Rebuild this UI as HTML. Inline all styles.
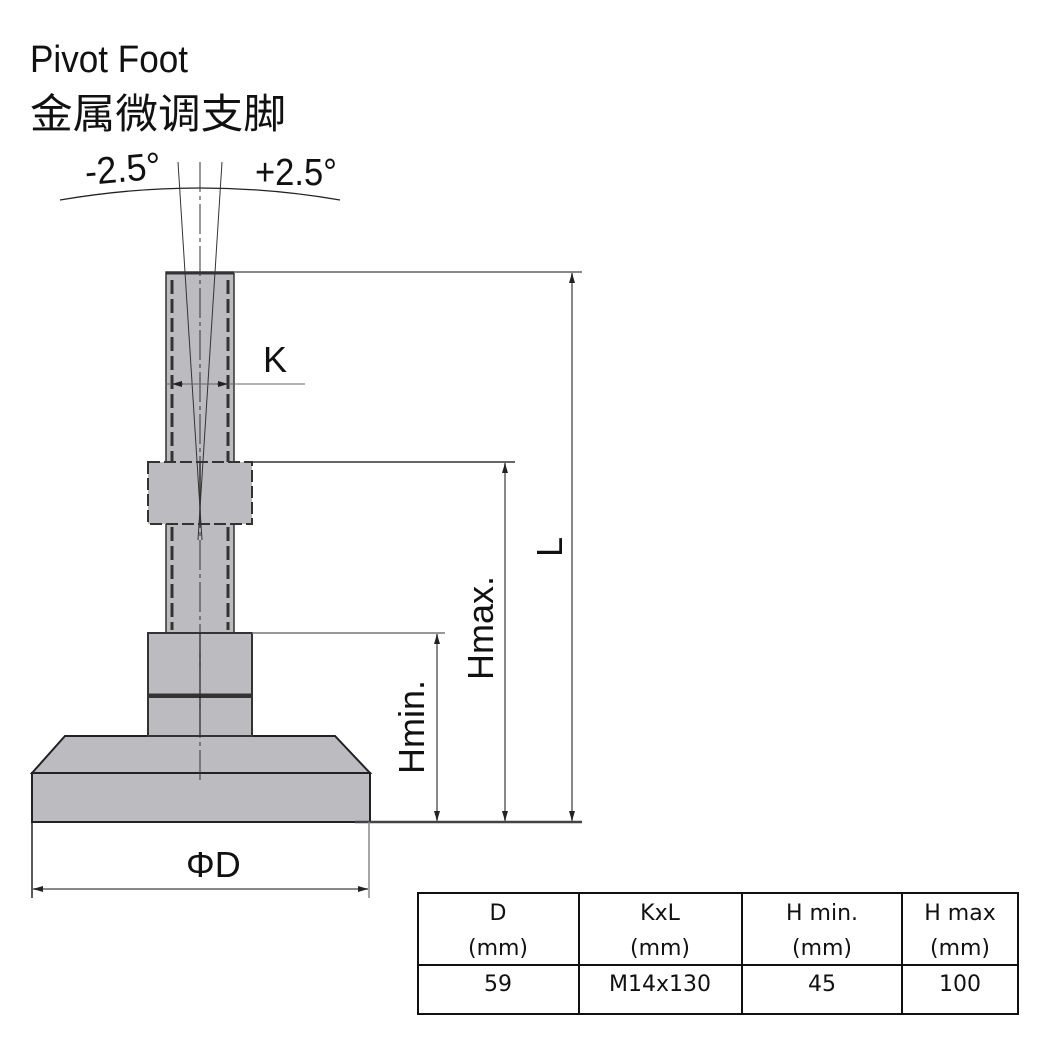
<!DOCTYPE html>
<html><head><meta charset="utf-8"><style>html,body{margin:0;padding:0;background:#fff}svg{display:block}</style></head>
<body>
<svg width="1042" height="1042" viewBox="0 0 1042 1042" xmlns="http://www.w3.org/2000/svg" font-family="Liberation Sans, sans-serif">
<defs>
<marker id="a" viewBox="0 0 10 10" refX="10" refY="5" markerWidth="10" markerHeight="10" orient="auto-start-reverse" markerUnits="userSpaceOnUse"><path d="M0,2 L10,5 L0,8z" fill="#222"/></marker>
</defs>
<text x="30" y="72" font-size="38" textLength="158" lengthAdjust="spacingAndGlyphs" fill="#111">Pivot Foot</text>
<text x="30" y="128" font-size="41" font-family="Liberation Sans, Noto Sans CJK SC, sans-serif" textLength="256" lengthAdjust="spacingAndGlyphs" fill="#111">金属微调支脚</text>
<text x="86" y="185" font-size="38" fill="#111" textLength="76" lengthAdjust="spacingAndGlyphs" transform="rotate(-5 86 185)">-2.5°</text>
<text x="255" y="185" font-size="38" fill="#111" textLength="82" lengthAdjust="spacingAndGlyphs">+2.5°</text>
<path d="M60,200 Q200,176 340,200" fill="none" stroke="#222" stroke-width="1.3"/>
<!-- base -->
<path d="M32,773 L65,736 L335,736 L370,773 Z" fill="#bcbcc0" stroke="#222" stroke-width="2"/>
<rect x="32" y="773" width="338" height="49" fill="#bcbcc0" stroke="#222" stroke-width="2"/>
<!-- rod -->
<rect x="166" y="272" width="68" height="362" fill="#bcbcc0" stroke="#333" stroke-width="1.5"/>
<line x1="172" y1="280" x2="172" y2="630" stroke="#333" stroke-width="3" stroke-dasharray="14,5"/>
<line x1="228" y1="280" x2="228" y2="630" stroke="#333" stroke-width="3" stroke-dasharray="14,5"/>
<line x1="166" y1="273" x2="234" y2="273" stroke="#333" stroke-width="3"/>
<!-- nuts -->
<rect x="148" y="462" width="104" height="62" fill="#bcbcc0" stroke="#333" stroke-width="2" stroke-dasharray="12,4"/>
<line x1="200" y1="462" x2="200" y2="524" stroke="#333" stroke-width="1.5"/>
<rect x="148" y="633" width="104" height="62" fill="#bcbcc0" stroke="#333" stroke-width="2"/>
<rect x="148" y="697" width="104" height="39" fill="#bcbcc0" stroke="#333" stroke-width="2"/>
<line x1="148" y1="695" x2="252" y2="695" stroke="#333" stroke-width="3"/>
<line x1="200" y1="633" x2="200" y2="736" stroke="#222" stroke-width="1.3"/>
<!-- pivot lines -->
<line x1="200" y1="162" x2="200" y2="780" stroke="#333" stroke-width="1" stroke-dasharray="30,4,4,4"/>
<line x1="178" y1="162" x2="202" y2="540" stroke="#333" stroke-width="1"/>
<line x1="222" y1="162" x2="198" y2="540" stroke="#333" stroke-width="1"/>
<!-- K dimension -->
<line x1="166" y1="384" x2="305" y2="384" stroke="#666" stroke-width="1"/>
<line x1="183" y1="384" x2="172" y2="384" stroke="#222" marker-end="url(#a)"/>
<line x1="217" y1="384" x2="228" y2="384" stroke="#222" marker-end="url(#a)"/>
<text x="263" y="372" font-size="36" fill="#111">K</text>
<!-- extension lines -->
<line x1="234" y1="272" x2="582" y2="272" stroke="#888" stroke-width="2"/>
<line x1="252" y1="462" x2="515" y2="462" stroke="#333" stroke-width="1.5"/>
<line x1="252" y1="633" x2="445" y2="633" stroke="#777" stroke-width="1.5"/>
<line x1="355" y1="822" x2="582" y2="822" stroke="#444" stroke-width="2.5"/>
<!-- vertical dims -->
<line x1="572" y1="273" x2="572" y2="821" stroke="#888" stroke-width="2" marker-start="url(#a)" marker-end="url(#a)"/>
<line x1="505" y1="463" x2="505" y2="821" stroke="#888" stroke-width="2" marker-start="url(#a)" marker-end="url(#a)"/>
<line x1="437" y1="634" x2="437" y2="821" stroke="#888" stroke-width="2" marker-start="url(#a)" marker-end="url(#a)"/>
<text transform="translate(562,557) rotate(-90)" font-size="36" fill="#111">L</text>
<text transform="translate(493,680) rotate(-90)" font-size="36" fill="#111">Hmax.</text>
<text transform="translate(424,774) rotate(-90)" font-size="36" fill="#111">Hmin.</text>
<!-- D dim -->
<line x1="32" y1="822" x2="32" y2="898" stroke="#222" stroke-width="1.5"/>
<line x1="369" y1="822" x2="369" y2="898" stroke="#888" stroke-width="1.5"/>
<line x1="33" y1="889" x2="368" y2="889" stroke="#888" stroke-width="2" marker-start="url(#a)" marker-end="url(#a)"/>
<text x="186" y="877" font-size="36" fill="#111">ΦD</text>
<!-- table -->
<g stroke="#111" stroke-width="2" fill="none">
<rect x="418" y="893" width="600" height="121"/>
<line x1="418" y1="965" x2="1018" y2="965"/>
<line x1="579" y1="893" x2="579" y2="1014"/>
<line x1="742" y1="893" x2="742" y2="1014"/>
<line x1="902" y1="893" x2="902" y2="1014"/>
</g>
<g font-size="22" fill="#111" text-anchor="middle" font-family="DejaVu Sans, sans-serif">
<text x="498" y="920">D</text><text x="498" y="955">(mm)</text>
<text x="660" y="920">KxL</text><text x="660" y="955">(mm)</text>
<text x="822" y="920">H min.</text><text x="822" y="955">(mm)</text>
<text x="960" y="920">H max</text><text x="960" y="955">(mm)</text>
<text x="498" y="991">59</text><text x="660" y="991">M14x130</text>
<text x="822" y="991">45</text><text x="960" y="991">100</text>
</g>
</svg>
</body></html>
